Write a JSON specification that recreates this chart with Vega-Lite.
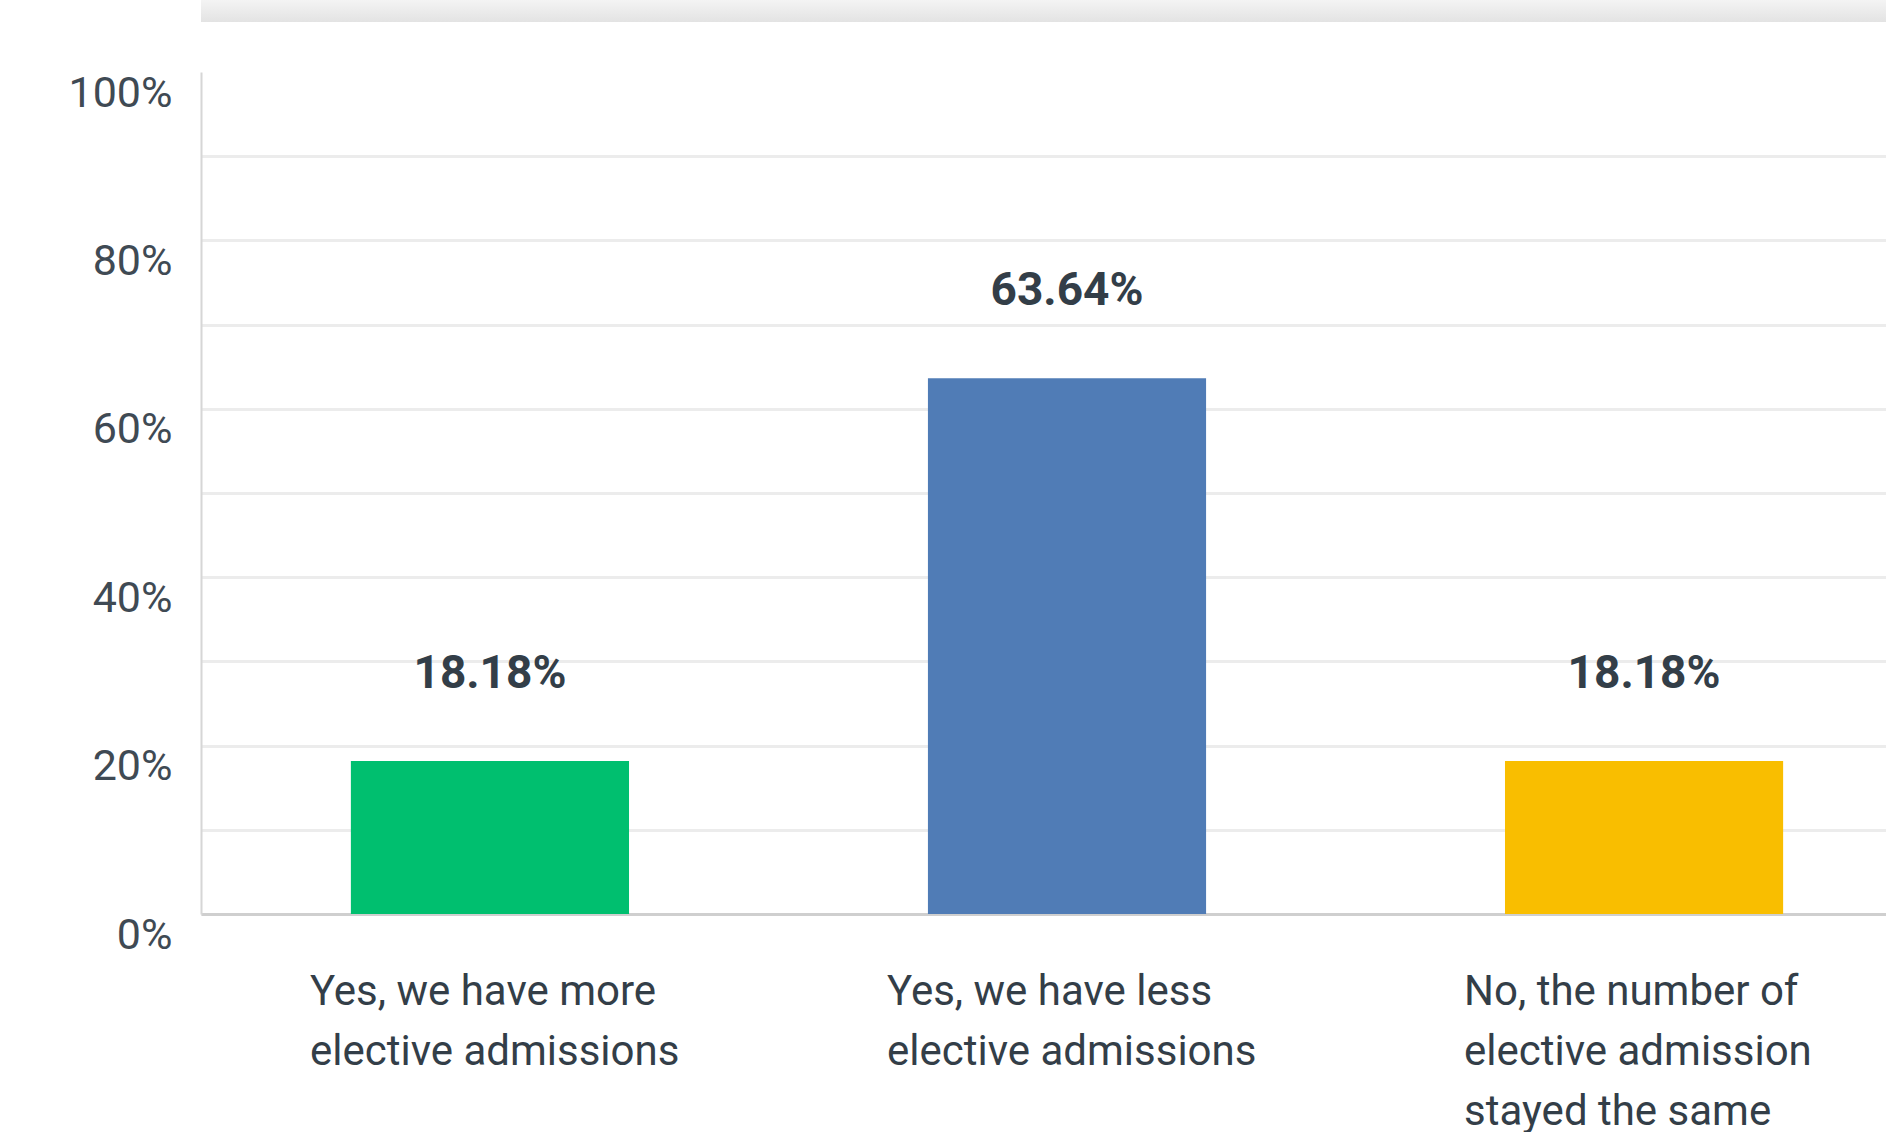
{
  "$schema": "https://vega.github.io/schema/vega-lite/v6.json",
  "padding": {"left": 68, "top": 0, "right": 0, "bottom": 0},
  "background": "white",
  "spacing": 50,
  "align": "none",
  "config": {"view": {"stroke": null}, "font": "Roboto"},
  "vconcat": [
    {
      "width": 1685,
      "height": 22,
      "data": {"values": [{"band": "header"}]},
      "mark": {
        "type": "rect",
        "color": {
          "gradient": "linear", "x1": 0, "y1": 0, "x2": 0, "y2": 1,
          "stops": [{"offset": 0, "color": "#f4f4f4"}, {"offset": 1, "color": "#e3e3e3"}]
        }
      },
      "encoding": {}
    },
    {
      "width": 1685,
      "height": 842,
      "data": {
        "values": [
          {"answer": "Yes, we have more elective admissions", "share": 0.1818},
          {"answer": "Yes, we have less elective admissions", "share": 0.6364},
          {"answer": "No, the number of elective admission stayed the same", "share": 0.1818}
        ]
      },
      "encoding": {
        "x": {
          "field": "answer", "type": "nominal", "sort": null,
          "scale": {"paddingInner": 0.518, "paddingOuter": 0.219, "align": 0.593},
          "axis": {
            "title": null, "ticks": false, "domainColor": "#cfcfcf", "domainWidth": 3,
            "labelAngle": 0, "labelAlign": "left", "labelOffset": -180, "labelBaseline": "top",
            "labelPadding": 57, "labelLineHeight": 60, "labelFontSize": 42, "labelColor": "#333e48",
            "labelLimit": 600,
            "labelExpr": "datum.label == 'Yes, we have more elective admissions' ? ['Yes, we have more', 'elective admissions'] : datum.label == 'Yes, we have less elective admissions' ? ['Yes, we have less', 'elective admissions'] : ['No, the number of', 'elective admission', 'stayed the same']"
          }
        },
        "y": {
          "field": "share", "type": "quantitative",
          "scale": {"domain": [0, 1], "nice": false},
          "axis": {
            "title": null,
            "values": [0, 0.1, 0.2, 0.3, 0.4, 0.5, 0.6, 0.7, 0.8, 0.9, 1],
            "labelExpr": "round(datum.value * 100) % 20 == 0 ? format(datum.value, '.0%') : ''",
            "labelOverlap": false,
            "grid": true,
            "gridColor": {"condition": {"test": "datum.value >= 0.99", "value": "transparent"}, "value": "#ececec"},
            "gridWidth": 3,
            "ticks": false,
            "domainColor": "#d6d6d6", "domainWidth": 2,
            "labelFontSize": 43, "labelColor": "#3f4a54", "labelPadding": 29, "labelOffset": 21
          }
        }
      },
      "layer": [
        {
          "mark": {"type": "bar"},
          "encoding": {
            "color": {
              "field": "answer", "type": "nominal", "sort": null, "legend": null,
              "scale": {"range": ["#00bf6f", "#507cb6", "#f9be00"]}
            }
          }
        },
        {
          "mark": {"type": "text", "dy": -87, "fontSize": 46, "fontWeight": "bold", "color": "#333e48", "baseline": "middle"},
          "encoding": {"text": {"field": "share", "type": "quantitative", "format": ".2%"}}
        }
      ]
    }
  ]
}
